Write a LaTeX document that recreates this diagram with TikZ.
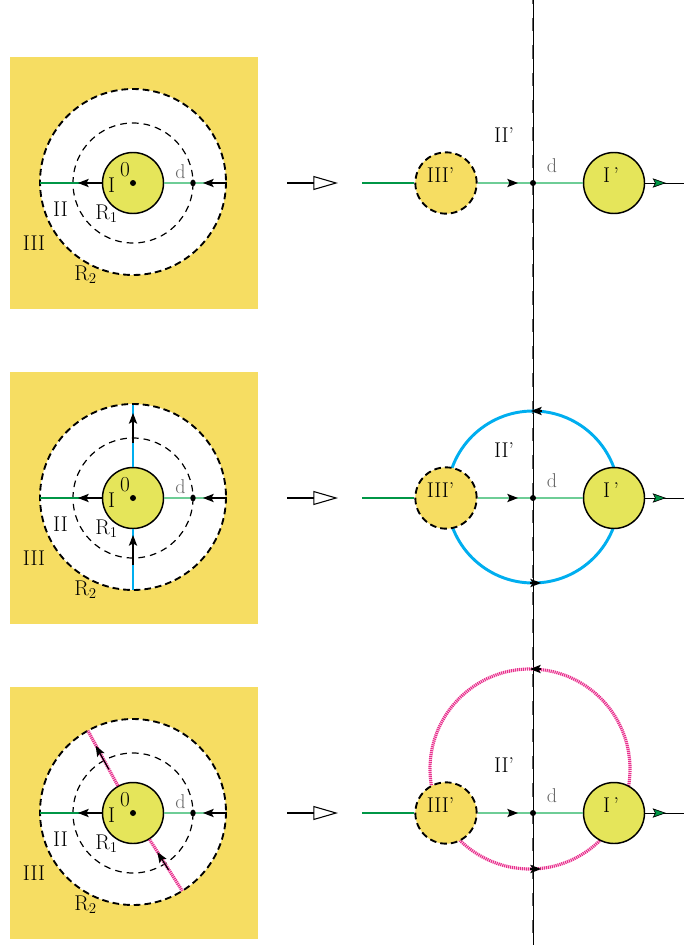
\documentclass[tikz,border=0pt]{standalone}
\usetikzlibrary{arrows.meta,calc}

\definecolor{sandyellow}{RGB}{246,221,98}
\definecolor{coreyellow}{RGB}{229,229,90}
\definecolor{fieldgreen}{RGB}{0,150,70}
\definecolor{mintgreen}{RGB}{110,205,150}
\definecolor{flowblue}{RGB}{0,174,239}
\definecolor{flowpink}{RGB}{232,45,140}
\definecolor{axisgray}{RGB}{100,100,100}

\tikzset{
  rimR2/.style={draw=black, line width=1.4pt, dash pattern=on 5pt off 3pt},
  rimR1/.style={draw=black, line width=0.9pt, dash pattern=on 5pt off 3.8pt},
  core/.style={circle, draw=black, line width=1.1pt, fill=coreyellow, minimum size=45.75pt, inner sep=0pt},
  mirror/.style={circle, rimR2, fill=sandyellow, minimum size=46pt, inner sep=0pt},
  flowtip/.style={line width=0.9pt, -{Stealth[length=8pt,width=6.2pt,inset=1.6pt]}},
  greentip/.style={line width=0.5pt, -{Stealth[length=10pt,width=7pt,inset=1.8pt,fill=fieldgreen]}},
  pushtip/.style={line width=1.2pt, -{Triangle[open,length=18.5pt,width=10.5pt,line width=0.8pt]}},
  pinkflow/.style={flowpink, line width=2.4pt, dash pattern=on 0.9pt off 0.6pt},
  lbl/.style={inner sep=0pt, font=\fontsize{16}{18}\selectfont},
  dlbl/.style={inner sep=0pt, text=black!60, font=\fontsize{15}{17}\selectfont}
}

\begin{document}
\begin{tikzpicture}[x=0.75pt,y=0.75pt,yscale=-1,xscale=1]
  \useasboundingbox (0,0) rectangle (684,945);

  %Straight Lines: axis
  \draw [axisgray, line width=2pt, dash pattern=on 10pt off 10.5pt, dash phase=7pt] (533,0) -- (533,945);
  \draw [line width=0.5pt] (533,0) -- (533,945);

  %Shape: Circle (flow in the image plane)
  \draw [flowblue, line width=2.2pt] (533,497) circle (86);
  \draw [pinkflow] (530,769) circle (100);

  \foreach \k/\oy in {a/0,b/315,c/630}{
  \begin{scope}[shift={(0,\oy)}]
    %Shape: Square
    \fill [sandyellow] (10,57) rectangle (258,309);
    %Shape: Circle R2 and R1
    \draw [rimR2, fill=white] (133,182) circle (93);
    \draw [rimR1] (133,183) circle (60);
    \node [core] (core\k) at (133,183) {};
    \fill (133,183) circle (3);
    %Straight Lines
    \coordinate (west\k) at (40,183);
    \coordinate (east\k) at (226,183);
    \draw [fieldgreen, line width=0.8pt] (core\k.west) -- (west\k);
    \draw [flowtip] (core\k.west) -- (78,183);
    \draw [mintgreen, line width=1pt] (core\k.east) -- (east\k);
    \draw [flowtip] (east\k) -- (203,183);
    \fill (193,183) ellipse (2.7 and 3.4);
    % Text Node
    \node [lbl] (zero\k) at (125,170) {0};
    \node [lbl] (one\k) at (111.5,185.5) {I};
    \node [dlbl] (d\k) at (180.5,172) {d};
    \node [lbl] (two\k) at (60.5,209.5) {II};
    \node [lbl, anchor=base west] (rone\k) at (95,219) {R\textsubscript{1}};
    \node [lbl] (three\k) at (34,243) {III};
    \node [lbl, anchor=base west] (rtwo\k) at (74,280) {R\textsubscript{2}};

    %Straight Lines: map
    \draw [pushtip] (287,183) -- (338,183);

    %Shape: Circle III' and I'
    \node [mirror] (mirror\k) at (446,183) {};
    \node [core] (rcore\k) at (614,183) {};
    \coordinate (far\k) at (362,183);
    \coordinate (end\k) at (684,183);
    \draw [fieldgreen, line width=0.8pt] (far\k) -- (mirror\k);
    \draw [mintgreen, line width=1pt] (mirror\k) -- (rcore\k);
    \draw [flowtip] (509,183) -- (518,183);
    \fill (533,183) circle (3);
    \draw [line width=0.7pt] (rcore\k) -- (end\k);
    \draw [greentip] (652,183) -- (666,183);
    % Text Node
    \node [lbl] (twop\k) at (504,135) {II'};
    \node [dlbl] (dp\k) at (552,165.5) {d};
    \node [lbl] (threep\k) at (440.5,175.5) {III'};
    \node [lbl] (onep\k) at (611,175.5) {I\,'};
  \end{scope}
  }

  %Straight Lines: blue flow
  \begin{scope}[shift={(0,315)}]
    \coordinate (rimb1) at (133,90);
    \coordinate (rimb2) at (133,275);
    \draw [flowblue, line width=2.2pt] (coreb.north) -- (rimb1);
    \draw [flowblue, line width=2.2pt] (coreb.south) -- (rimb2);
    \draw [flowtip] (133,128) -- (133,98);
    \draw [flowtip] (133,250) -- (133,220);
    \draw [flowtip] (542,96) -- (531,96);
    \draw [flowtip] (530,268) -- (541,268);
  \end{scope}

  %Straight Lines: pink flow
  \begin{scope}[shift={(0,630)}]
    \coordinate (rimc1) at ($(133,182)+(-119:93)$);
    \coordinate (rimc2) at ($(133,182)+(58:93)$);
    \draw [pinkflow] (corec.119) -- (rimc1);
    \draw [pinkflow] (corec.-58) -- (rimc2);
    \draw [flowtip] ($(133,183)+(-119:50)$) -- ($(133,183)+(-119:77)$);
    \draw [flowtip] ($(133,183)+(58:67)$) -- ($(133,183)+(58:46)$);
    \draw [flowtip] (541,39) -- (530,39);
    \draw [flowtip] (530,239) -- (541,239);
  \end{scope}
\end{tikzpicture}
\end{document}
